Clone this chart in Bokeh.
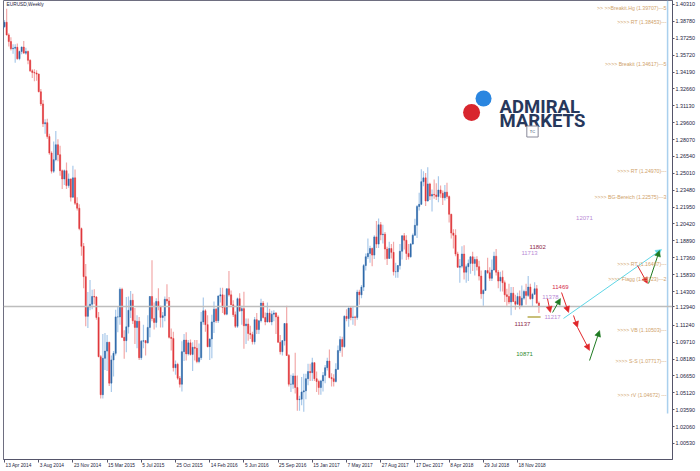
from bokeh.plotting import figure
from bokeh.models import (ColumnDataSource, Range1d, LinearAxis, FixedTicker,
                          PrintfTickFormatter, Label, Arrow, NormalHead, Span)
from bokeh.embed import file_html
from bokeh.resources import INLINE

# ---------------- data (weekly EURUSD candles) ----------------
# position of the first candle on the picture's week axis (label "13 Apr 2014" = week 0)
first_bar_week = -2
week_open = [
    1.3810, 1.3813, 1.3830, 1.3870, 1.3755, 1.3695, 1.3630, 1.3635, 1.3643, 1.3540,
    1.3605, 1.3645, 1.3590, 1.3605, 1.3525, 1.3430, 1.3415, 1.3410, 1.3400, 1.3240,
    1.3130, 1.2950, 1.2960, 1.2835, 1.2685, 1.2520, 1.2625, 1.2760, 1.2670, 1.2525,
    1.2450, 1.2525, 1.2390, 1.2450, 1.2285, 1.2460, 1.2230, 1.2185,
    1.2000, 1.1840, 1.1565, 1.1205, 1.1290, 1.1315, 1.1385, 1.1380, 1.1195, 1.0840,
    1.0495, 1.0825, 1.0890, 1.0970, 1.0600, 1.0810, 1.0870, 1.1200, 1.1200, 1.1450,
    1.1015, 1.0985, 1.1110, 1.1260, 1.1350, 1.1165, 1.1105, 1.1160, 1.0830, 1.0980,
    1.0985, 1.0965, 1.1105, 1.1385, 1.1185, 1.1150, 1.1340, 1.1295, 1.1195, 1.1210,
    1.1360, 1.1345, 1.1015, 1.1005, 1.0740, 1.0770, 1.0645, 1.0590, 1.0885, 1.0990,
    1.0865, 1.0965,
    1.0860, 1.0925, 1.0915, 1.0795, 1.0830, 1.1155, 1.1255, 1.1130, 1.0930, 1.1000,
    1.1155, 1.1270, 1.1165, 1.1390, 1.1400, 1.1285, 1.1225, 1.1455, 1.1400, 1.1310,
    1.1220, 1.1115, 1.1365, 1.1255, 1.1275, 1.1120, 1.1135, 1.1050, 1.1040, 1.0975,
    1.1175, 1.1085, 1.1165, 1.1325, 1.1195, 1.1155, 1.1235, 1.1155, 1.1225, 1.1235,
    1.1200, 1.0970, 1.0885, 1.0985, 1.1140, 1.0850, 1.0590, 1.0590, 1.0665, 1.0560,
    1.0450, 1.0455,
    1.0520, 1.0530, 1.0640, 1.0705, 1.0695, 1.0785, 1.0640, 1.0615, 1.0560, 1.0620,
    1.0670, 1.0740, 1.0800, 1.0650, 1.0640, 1.0615, 1.0725, 1.0895, 1.0995, 1.0930,
    1.1205, 1.1185, 1.1280, 1.1195, 1.1200, 1.1195, 1.1425, 1.1400, 1.1470, 1.1665,
    1.1745, 1.1775, 1.1820, 1.1760, 1.1925, 1.1860, 1.2035, 1.1945, 1.1950, 1.1815,
    1.1730, 1.1820, 1.1785, 1.1610, 1.1610, 1.1665, 1.1795, 1.1935, 1.1895, 1.1775,
    1.1745, 1.1860, 1.1940,
    1.2030, 1.2200, 1.2220, 1.2425, 1.2460, 1.2250, 1.2405, 1.2295, 1.2310, 1.2305,
    1.2290, 1.2350, 1.2320, 1.2280, 1.2330, 1.2290, 1.2130, 1.1960, 1.1940, 1.1770,
    1.1650, 1.1660, 1.1770, 1.1605, 1.1655, 1.1685, 1.1745, 1.1685, 1.1720, 1.1655,
    1.1570, 1.1410, 1.1440, 1.1620, 1.1600, 1.1550, 1.1625, 1.1750, 1.1605, 1.1525,
    1.1560, 1.1510, 1.1400, 1.1385, 1.1335, 1.1415, 1.1340, 1.1315, 1.1385, 1.1305,
    1.1370, 1.1430,
    1.1395, 1.1470, 1.1365, 1.1405, 1.1455, 1.1325,
]
week_high = [
    1.3850, 1.3850, 1.3890, 1.3993, 1.3770, 1.3735, 1.3670, 1.3670, 1.3678, 1.3615,
    1.3650, 1.3700, 1.3640, 1.3615, 1.3535, 1.3445, 1.3445, 1.3435, 1.3405, 1.3265,
    1.3165, 1.2990, 1.2995, 1.2860, 1.2700, 1.2790, 1.2885, 1.2810, 1.2750, 1.2535,
    1.2535, 1.2600, 1.2500, 1.2455, 1.2570, 1.2535, 1.2285, 1.2220,
    1.2010, 1.1870, 1.1680, 1.1425, 1.1535, 1.1445, 1.1450, 1.1390, 1.1245, 1.0855,
    1.1045, 1.1055, 1.1035, 1.0975, 1.0850, 1.0890, 1.1265, 1.1290, 1.1467, 1.1465,
    1.1080, 1.1380, 1.1385, 1.1435, 1.1410, 1.1280, 1.1215, 1.1200, 1.0990, 1.1130,
    1.0990, 1.1215, 1.1390, 1.1714, 1.1330, 1.1370, 1.1460, 1.1300, 1.1245, 1.1385,
    1.1495, 1.1380, 1.1095, 1.1065, 1.0805, 1.0785, 1.0665, 1.0980, 1.1045, 1.1060,
    1.0990, 1.0995,
    1.0970, 1.0990, 1.0990, 1.0960, 1.1245, 1.1375, 1.1270, 1.1215, 1.1005, 1.1220,
    1.1340, 1.1280, 1.1395, 1.1465, 1.1465, 1.1400, 1.1460, 1.1615, 1.1440, 1.1350,
    1.1250, 1.1375, 1.1415, 1.1300, 1.1427, 1.1185, 1.1185, 1.1120, 1.1065, 1.1200,
    1.1235, 1.1170, 1.1365, 1.1345, 1.1240, 1.1330, 1.1275, 1.1255, 1.1260, 1.1245,
    1.1215, 1.1035, 1.0990, 1.1145, 1.1300, 1.0865, 1.0675, 1.0690, 1.0875, 1.0670,
    1.0485, 1.0655,
    1.0685, 1.0685, 1.0775, 1.0775, 1.0830, 1.0790, 1.0705, 1.0630, 1.0630, 1.0700,
    1.0765, 1.0830, 1.0905, 1.0690, 1.0680, 1.0780, 1.0940, 1.1025, 1.1020, 1.1215,
    1.1270, 1.1285, 1.1295, 1.1295, 1.1210, 1.1445, 1.1445, 1.1490, 1.1680, 1.1775,
    1.1910, 1.1845, 1.1830, 1.1940, 1.2070, 1.2092, 1.2060, 1.2035, 1.1970, 1.1835,
    1.1880, 1.1860, 1.1880, 1.1690, 1.1670, 1.1860, 1.1940, 1.1960, 1.1940, 1.1860,
    1.1870, 1.1955, 1.2090,
    1.2215, 1.2325, 1.2537, 1.2520, 1.2505, 1.2555, 1.2415, 1.2355, 1.2445, 1.2410,
    1.2475, 1.2390, 1.2345, 1.2395, 1.2415, 1.2300, 1.2135, 1.1995, 1.1995, 1.1790,
    1.1725, 1.1840, 1.1850, 1.1675, 1.1720, 1.1750, 1.1790, 1.1745, 1.1750, 1.1710,
    1.1620, 1.1450, 1.1625, 1.1735, 1.1650, 1.1720, 1.1790, 1.1815, 1.1625, 1.1610,
    1.1620, 1.1530, 1.1455, 1.1500, 1.1470, 1.1470, 1.1400, 1.1420, 1.1440, 1.1485,
    1.1445, 1.1500,
    1.1570, 1.1500, 1.1420, 1.1515, 1.1490, 1.1340,
]
week_low = [
    1.3780, 1.3790, 1.3820, 1.3750, 1.3650, 1.3615, 1.3585, 1.3503, 1.3530, 1.3525,
    1.3580, 1.3590, 1.3575, 1.3490, 1.3420, 1.3365, 1.3335, 1.3340, 1.3235, 1.3110,
    1.2920, 1.2860, 1.2815, 1.2670, 1.2500, 1.2505, 1.2610, 1.2610, 1.2480, 1.2360,
    1.2395, 1.2360, 1.2370, 1.2245, 1.2280, 1.2215, 1.2165, 1.1985,
    1.1755, 1.1460, 1.1115, 1.1100, 1.1260, 1.1270, 1.1315, 1.1175, 1.0835, 1.0460,
    1.0460, 1.0720, 1.0710, 1.0575, 1.0520, 1.0660, 1.0850, 1.1060, 1.1130, 1.1010,
    1.0820, 1.0880, 1.1050, 1.1190, 1.1135, 1.0955, 1.0915, 1.0810, 1.0810, 1.0915,
    1.0850, 1.0960, 1.1015, 1.1160, 1.1085, 1.1105, 1.1260, 1.1105, 1.1105, 1.1160,
    1.1320, 1.1005, 1.0895, 1.0705, 1.0675, 1.0630, 1.0560, 1.0525, 1.0800, 1.0805,
    1.0850, 1.0850,
    1.0710, 1.0805, 1.0780, 1.0780, 1.0810, 1.1130, 1.1065, 1.0925, 1.0810, 1.0825,
    1.1055, 1.1145, 1.1145, 1.1330, 1.1235, 1.1215, 1.1215, 1.1385, 1.1305, 1.1200,
    1.1100, 1.1100, 1.1245, 1.1130, 1.0912, 1.0955, 1.0985, 1.1000, 1.0950, 1.0950,
    1.1045, 1.1045, 1.1150, 1.1185, 1.1125, 1.1150, 1.1150, 1.1125, 1.1160, 1.1045,
    1.0965, 1.0860, 1.0850, 1.0940, 1.0845, 1.0570, 1.0520, 1.0550, 1.0505, 1.0350,
    1.0350, 1.0400,
    1.0340, 1.0455, 1.0580, 1.0620, 1.0620, 1.0620, 1.0520, 1.0495, 1.0495, 1.0525,
    1.0600, 1.0715, 1.0645, 1.0570, 1.0570, 1.0605, 1.0720, 1.0875, 1.0840, 1.0920,
    1.1160, 1.1110, 1.1170, 1.1130, 1.1120, 1.1175, 1.1310, 1.1370, 1.1435, 1.1620,
    1.1725, 1.1690, 1.1660, 1.1725, 1.1825, 1.1825, 1.1895, 1.1865, 1.1720, 1.1670,
    1.1725, 1.1730, 1.1575, 1.1555, 1.1555, 1.1630, 1.1720, 1.1810, 1.1715, 1.1720,
    1.1735, 1.1855, 1.1935,
    1.1915, 1.2165, 1.2215, 1.2385, 1.2205, 1.2245, 1.2260, 1.2155, 1.2270, 1.2260,
    1.2240, 1.2280, 1.2215, 1.2255, 1.2270, 1.2055, 1.1910, 1.1820, 1.1750, 1.1645,
    1.1510, 1.1640, 1.1540, 1.1510, 1.1525, 1.1590, 1.1615, 1.1575, 1.1620, 1.1530,
    1.1365, 1.1300, 1.1435, 1.1590, 1.1525, 1.1525, 1.1620, 1.1575, 1.1460, 1.1430,
    1.1430, 1.1335, 1.1300, 1.1315, 1.1215, 1.1335, 1.1265, 1.1310, 1.1270, 1.1300,
    1.1355, 1.1310,
    1.1380, 1.1355, 1.1290, 1.1400, 1.1320, 1.1235,
]
week_close = [
    1.3813, 1.3830, 1.3870, 1.3755, 1.3695, 1.3630, 1.3635, 1.3643, 1.3540, 1.3605,
    1.3645, 1.3590, 1.3605, 1.3525, 1.3430, 1.3415, 1.3410, 1.3400, 1.3240, 1.3130,
    1.2950, 1.2960, 1.2835, 1.2685, 1.2520, 1.2625, 1.2760, 1.2670, 1.2525, 1.2450,
    1.2525, 1.2390, 1.2450, 1.2285, 1.2460, 1.2230, 1.2185, 1.2000,
    1.1840, 1.1565, 1.1205, 1.1290, 1.1315, 1.1385, 1.1380, 1.1195, 1.0840, 1.0495,
    1.0825, 1.0890, 1.0970, 1.0600, 1.0810, 1.0870, 1.1200, 1.1200, 1.1450, 1.1015,
    1.0985, 1.1110, 1.1260, 1.1350, 1.1165, 1.1105, 1.1160, 1.0830, 1.0980, 1.0985,
    1.0965, 1.1105, 1.1385, 1.1185, 1.1150, 1.1340, 1.1295, 1.1195, 1.1210, 1.1360,
    1.1345, 1.1015, 1.1005, 1.0740, 1.0770, 1.0645, 1.0590, 1.0885, 1.0990, 1.0865,
    1.0965, 1.0860,
    1.0925, 1.0915, 1.0795, 1.0830, 1.1155, 1.1255, 1.1130, 1.0930, 1.1000, 1.1155,
    1.1270, 1.1165, 1.1390, 1.1400, 1.1285, 1.1225, 1.1455, 1.1400, 1.1310, 1.1220,
    1.1115, 1.1365, 1.1255, 1.1275, 1.1120, 1.1135, 1.1050, 1.1040, 1.0975, 1.1175,
    1.1085, 1.1165, 1.1325, 1.1195, 1.1155, 1.1235, 1.1155, 1.1225, 1.1235, 1.1200,
    1.0970, 1.0885, 1.0985, 1.1140, 1.0850, 1.0590, 1.0590, 1.0665, 1.0560, 1.0450,
    1.0455, 1.0520,
    1.0530, 1.0640, 1.0705, 1.0695, 1.0785, 1.0640, 1.0615, 1.0560, 1.0620, 1.0670,
    1.0740, 1.0800, 1.0650, 1.0640, 1.0615, 1.0725, 1.0895, 1.0995, 1.0930, 1.1205,
    1.1185, 1.1280, 1.1195, 1.1200, 1.1195, 1.1425, 1.1400, 1.1470, 1.1665, 1.1745,
    1.1775, 1.1820, 1.1760, 1.1925, 1.1860, 1.2035, 1.1945, 1.1950, 1.1815, 1.1730,
    1.1820, 1.1785, 1.1610, 1.1610, 1.1665, 1.1795, 1.1935, 1.1895, 1.1775, 1.1745,
    1.1860, 1.1940, 1.2030,
    1.2200, 1.2220, 1.2425, 1.2460, 1.2250, 1.2405, 1.2295, 1.2310, 1.2305, 1.2290,
    1.2350, 1.2320, 1.2280, 1.2330, 1.2290, 1.2130, 1.1960, 1.1940, 1.1770, 1.1650,
    1.1660, 1.1770, 1.1605, 1.1655, 1.1685, 1.1745, 1.1685, 1.1720, 1.1655, 1.1570,
    1.1410, 1.1440, 1.1620, 1.1600, 1.1550, 1.1625, 1.1750, 1.1605, 1.1525, 1.1560,
    1.1510, 1.1400, 1.1385, 1.1335, 1.1415, 1.1340, 1.1315, 1.1385, 1.1305, 1.1370,
    1.1430, 1.1395,
    1.1470, 1.1365, 1.1405, 1.1455, 1.1325, 1.1295,
]

# x-axis date labels (week index, label "13 Apr 2014" = 0)
date_tick_weeks = [0, 16, 32, 48, 64, 80, 96, 112, 128, 144, 160, 176, 192, 208, 224, 240]
date_tick_labels = ["13 Apr 2014", "3 Aug 2014", "23 Nov 2014", "15 Mar 2015", "5 Jul 2015",
                    "25 Oct 2015", "14 Feb 2016", "5 Jun 2016", "25 Sep 2016", "15 Jan 2017",
                    "7 May 2017", "27 Aug 2017", "17 Dec 2017", "8 Apr 2018", "29 Jul 2018",
                    "18 Nov 2018"]
price_ticks = [1.40310, 1.38780, 1.37250, 1.35720, 1.34190, 1.32660, 1.31130, 1.29600,
               1.28070, 1.26540, 1.25010, 1.23480, 1.21950, 1.20420, 1.18890, 1.17360,
               1.15830, 1.14300, 1.11240, 1.09710, 1.08180, 1.06650, 1.05120,
               1.03590, 1.02060, 1.00530]
current_price = 1.12940

# analysis levels at right
level_prices = [1.39707, 1.38453, 1.34617, 1.24970, 1.22575, 1.16487, 1.15123, 1.10503, 1.07717, 1.04672]
level_texts = [">> >>Breakit.Hg (1.39707)---5", ">>>> RT (1.38453)---", ">>>> Breakit (1.34617)---5",
               ">>>> RT (1.24970)---", ">>>> BG-Bereich (1.22575)---3", ">>>> RT (1.16487)---",
               ">>>> Flagg (1.15123)---2", ">>>> VB (1.10503)---", ">>>> S-S (1.07717)---",
               ">>>> rV (1.04672) ---"]

# wave target labels (week, price, text, colour)
wave_week = [249.4, 245.6, 260.1, 255.4, 256.4, 242.3, 243.3, 271.3]
wave_price = [1.1829, 1.1775, 1.1467, 1.1376, 1.1195, 1.1140, 1.0868, 1.2092]
wave_text = ["11802", "11713", "11469", "11378", "11217", "11137", "10871", "12071"]
wave_color = ["#8e2a4a", "#b98ad6", "#d42a4a", "#b98ad6", "#b98ad6", "#8e2a4a", "#2f8a2f", "#b98ad6"]

# projected path arrows (week/price start -> end)
arrow_w0 = [254.0, 256.4, 260.6, 266.2, 268.1, 273.7, 261.5, 296.1, 301.3]
arrow_p0 = [1.1367, 1.1240, 1.1421, 1.1213, 1.1104, 1.0805, 1.1186, 1.1666, 1.1503]
arrow_w1 = [255.4, 260.1, 263.9, 268.1, 273.7, 278.4, 307.4, 300.8, 306.4]
arrow_p1 = [1.1240, 1.1367, 1.1240, 1.1104, 1.0896, 1.1077, 1.1811, 1.1503, 1.1802]
arrow_kind = ["down", "up", "down", "down", "down", "up", "path", "down", "up"]

support_w = [244.7, 250.8]
support_p = 1.1200
marker_week = 310.2
marker_p = [1.4067, 1.0325]

# ---------------- styling ----------------
BULL_BODY, BULL_WICK = "#2f68a8", "#a9c9ea"
BEAR_BODY, BEAR_WICK = "#e0383c", "#f2a9a9"
LEVEL_COLOR = "#cfa26a"
ARROW_COLORS = {"down": "#e0262a", "up": "#1f7a22", "path": "#5fd6e6"}
AXIS_COLOR = "#55556a"
TEXT_COLOR = "#1c1c3c"
FONT = "Liberation Sans"
W, H = 700, 471
BORDER_L, BORDER_R, BORDER_B = 3, 28, 12

X0, X1 = -0.47, 312.5
Y0, Y1 = 0.9908, 1.4067

p = figure(width=W, height=H, output_backend="svg", toolbar_location=None,
           x_range=Range1d(X0, X1), y_range=Range1d(Y0, Y1),
           x_axis_location=None, y_axis_location=None,
           min_border_left=BORDER_L, min_border_right=BORDER_R, min_border_top=0,
           min_border_bottom=BORDER_B)
p.grid.visible = False
p.outline_line_color = "#6e6e80"
p.outline_line_width = 1
p.background_fill_color = "white"
p.border_fill_color = "white"

n = min(len(week_open), len(week_high), len(week_low), len(week_close))
bull = {"x": [], "lo": [], "hi": [], "b": [], "t": []}
bear = {"x": [], "lo": [], "hi": [], "b": [], "t": []}
for i in range(n):
    o, h, l, c = week_open[i], week_high[i], week_low[i], week_close[i]
    d = bull if c >= o else bear
    d["x"].append(first_bar_week + i)
    d["lo"].append(l)
    d["hi"].append(h)
    d["b"].append(min(o, c))
    d["t"].append(max(o, c))
bull_src = ColumnDataSource(bull)
bear_src = ColumnDataSource(bear)

for src, wick, body in ((bull_src, BULL_WICK, BULL_BODY), (bear_src, BEAR_WICK, BEAR_BODY)):
    p.segment(x0="x", y0="lo", x1="x", y1="hi", source=src, line_color=wick, line_width=1.2)
    p.vbar(x="x", bottom="b", top="t", width=0.55, source=src,
           fill_color=body, line_color=body, line_width=0.5)

# current price line
p.add_layout(Span(location=current_price, dimension="width", line_color="#bdbdbd", line_width=1.5))

# light blue vertical marker line
p.segment(x0=[marker_week], y0=[marker_p[0]], x1=[marker_week], y1=[marker_p[1]],
          line_color="#a9d0ee", line_width=1.5)

# olive support dash
p.segment(x0=[support_w[0]], y0=[support_p], x1=[support_w[1]], y1=[support_p],
          line_color="#b7aa4c", line_width=1.5)

# arrows
for w0, p0, w1, p1, k in zip(arrow_w0, arrow_p0, arrow_w1, arrow_p1, arrow_kind):
    col = ARROW_COLORS[k]
    p.add_layout(Arrow(end=NormalHead(size=6, fill_color=col, line_color=col, line_width=0.5),
                       x_start=w0, y_start=p0, x_end=w1, y_end=p1,
                       line_color=col, line_width=1))

# wave labels
for w, pr, t, col in zip(wave_week, wave_price, wave_text, wave_color):
    p.add_layout(Label(x=w, y=pr, text=t, text_color=col, text_font=FONT,
                       text_font_size="6px", text_align="center", text_baseline="middle"))

# level labels
for pr, t in zip(level_prices, level_texts):
    p.add_layout(Label(x=X1, y=pr, x_offset=-6, text=t, text_color=LEVEL_COLOR, text_font=FONT,
                       text_font_size="5.2px", text_align="right", text_baseline="bottom"))

# right price axis (current price shown as its own tick label)
yax = LinearAxis(ticker=FixedTicker(ticks=sorted(price_ticks + [current_price])),
                 formatter=PrintfTickFormatter(format="%.5f"))
yax.major_label_text_font_size = "5.4px"
yax.major_label_text_font = FONT
yax.major_label_text_color = TEXT_COLOR
yax.axis_line_color = AXIS_COLOR
yax.major_tick_line_color = AXIS_COLOR
yax.major_tick_out = 2
yax.major_tick_in = 0
yax.minor_tick_line_color = None
yax.major_label_standoff = 1
yax.axis_label_standoff = 0
p.add_layout(yax, "right")

# bottom: tick-mark axis at the start of each date label
xax = LinearAxis(ticker=FixedTicker(ticks=date_tick_weeks))
xax.major_label_overrides = {w: "" for w in date_tick_weeks}
xax.major_label_text_font_size = "1px"
xax.axis_line_color = AXIS_COLOR
xax.major_tick_line_color = AXIS_COLOR
xax.major_tick_out = 3
xax.major_tick_in = 0
xax.minor_tick_line_color = None
xax.major_label_standoff = 0
xax.axis_label_standoff = 0
p.add_layout(xax, "below")

# bottom: label axis, labels centred so that each text starts at its tick
CHAR_EM = {" ": 0.278, "A": 0.667, "p": 0.556, "r": 0.333, "u": 0.556, "g": 0.556, "N": 0.722,
           "o": 0.556, "v": 0.5, "M": 0.833, "a": 0.556, "J": 0.5, "l": 0.222, "O": 0.778,
           "c": 0.5, "t": 0.278, "F": 0.611, "e": 0.556, "b": 0.556, "n": 0.556, "S": 0.667,
           "y": 0.5, "D": 0.722}
DATE_FONT_PX = 4.8
px_per_week = (W - BORDER_L - BORDER_R) / (X1 - X0)
label_centres = []
for w, t in zip(date_tick_weeks, date_tick_labels):
    width_px = sum(CHAR_EM.get(ch, 0.556) for ch in t) * DATE_FONT_PX
    label_centres.append(w + (width_px / 2 + 1) / px_per_week)
lax = LinearAxis(ticker=FixedTicker(ticks=label_centres))
lax.major_label_overrides = {c: t for c, t in zip(label_centres, date_tick_labels)}
lax.major_label_text_font_size = f"{DATE_FONT_PX}px"
lax.major_label_text_font = FONT
lax.major_label_text_color = TEXT_COLOR
lax.axis_line_color = None
lax.major_tick_line_color = None
lax.major_tick_out = 0
lax.minor_tick_line_color = None
lax.minor_tick_out = 0
lax.major_label_standoff = 0
lax.axis_label_standoff = 0
p.add_layout(lax, "below")

# symbol title
p.add_layout(Label(x=X0, y=Y1, x_offset=3, y_offset=-1, text="EURUSD,Weekly", text_font=FONT,
                   text_font_size="4.8px", text_color=TEXT_COLOR, text_align="left",
                   text_baseline="top"))

# logo
logo_w = [224.1, 218.5]
logo_p = [1.3179, 1.3052]
p.scatter(x=logo_w, y=logo_p, size=[16, 17], fill_color=["#2a86e0", "#d8262e"], line_color=None)
p.add_layout(Label(x=231.6, y=1.3098, text="ADMIRAL", text_font="Roboto", text_font_style="bold",
                   text_font_size="18.5px", text_color="#27385c", text_align="left",
                   text_baseline="alphabetic"))
p.add_layout(Label(x=231.6, y=1.2971, text="MARKETS", text_font="Roboto", text_font_style="bold",
                   text_font_size="18.5px", text_color="#27385c", text_align="left",
                   text_baseline="alphabetic"))
p.add_layout(Label(x=247.0, y=1.2880, text="TC", text_font=FONT, text_font_size="4px",
                   text_color="#27385c", text_align="center", text_baseline="middle",
                   border_line_color="#8a8a9a", background_fill_color="white", padding=3))

open("out.html", "w").write(file_html(p, INLINE))
